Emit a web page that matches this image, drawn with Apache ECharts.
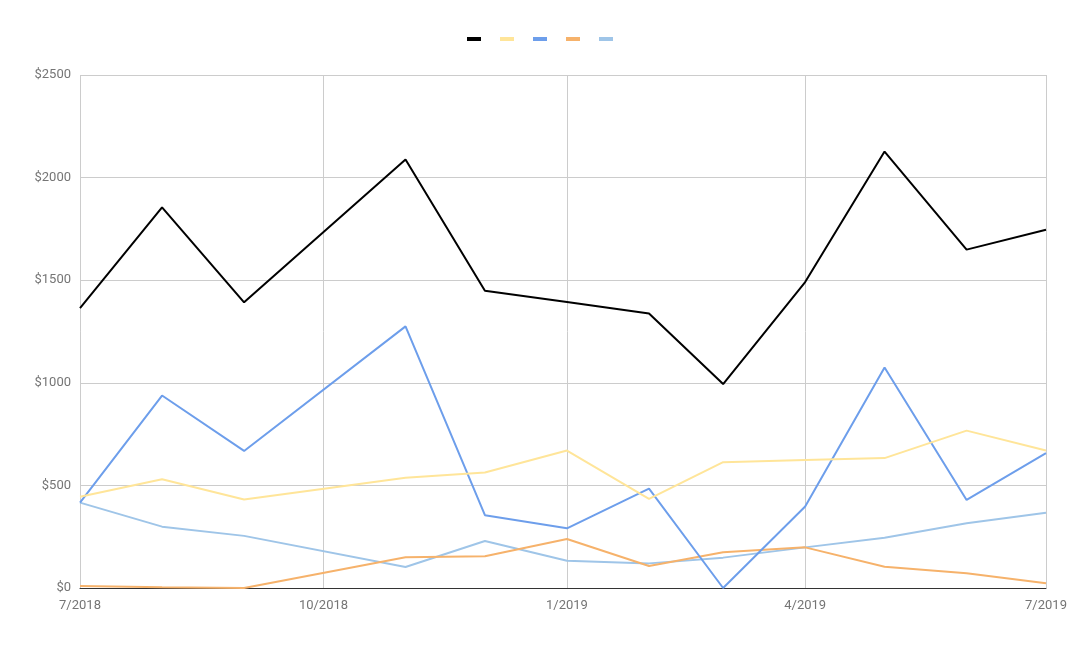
<!DOCTYPE html>
<html>
<head>
<meta charset="utf-8">
<script src="https://cdn.jsdelivr.net/npm/echarts@6/dist/echarts.min.js"></script>
<style>html,body{margin:0;padding:0;background:#fff}#c{width:1080px;height:645px}</style>
</head>
<body>
<div id="c"></div>
<script>
const dates = ['2018-07-01','2018-08-01','2018-09-01','2018-11-01','2018-12-01','2019-01-01','2019-02-01','2019-03-01','2019-04-01','2019-05-01','2019-06-01','2019-07-01'];
const seriesNames = ['Series 1','Series 2','Series 3','Series 4','Series 5'];
const s1 = [1364,1855,1392,2088,1449,1394,1338,994,1491,2127,1649,1746];
const s2 = [445,530,431,537,563,670,434,613,624,633,767,670];
const s3 = [416,938,668,1275,355,291,484,0,397,1075,429,657];
const s4 = [10,4,0,150,155,239,107,174,198,104,72,23];
const s5 = [416,299,254,102,229,133,120,148,198,245,316,367];
const colors = ['#000000','#ffe599','#6d9eeb','#f6b26b','#9fc5e8'];
const allValues = [s1,s2,s3,s4,s5];

const chart = echarts.init(document.getElementById('c'));
chart.setOption({
  animation:false,
  color: colors,
  legend:{
    top:32, left:'center', itemWidth:14, itemHeight:4, itemGap:19, icon:'rect',
    formatter:()=>'', data: seriesNames
  },
  grid:{left:80,right:34,top:75,bottom:57,containLabel:false},
  xAxis:{
    type:'time', min:'2018-07-01', max:'2019-07-01', splitNumber:4,
    axisLine:{show:true,lineStyle:{color:'#333',width:1}},
    axisTick:{show:false},
    splitLine:{show:true,lineStyle:{color:'#cccccc'}},
    minorTick:{show:false},
    axisLabel:{
      color:'#757575', fontFamily:'Roboto', fontSize:13, margin:11,
      showMinLabel:true, showMaxLabel:true,
      formatter:(v)=>{const d=new Date(v);return (d.getMonth()+1)+'/'+d.getFullYear();}
    }
  },
  yAxis:{
    type:'value', min:0, max:2500, interval:500,
    axisLine:{show:false}, axisTick:{show:false},
    splitLine:{lineStyle:{color:'#cccccc'}},
    axisLabel:{color:'#757575', fontFamily:'Roboto', fontSize:13, margin:9, formatter:(v)=>'$'+v}
  },
  series: allValues.map((vals,i)=>({
    name:seriesNames[i], type:'line', symbol:'none', showSymbol:false,
    lineStyle:{width:2,color:colors[i]},
    z: 10-i,
    data: dates.map((d,j)=>[d,vals[j]])
  }))
});
</script>
</body>
</html>
